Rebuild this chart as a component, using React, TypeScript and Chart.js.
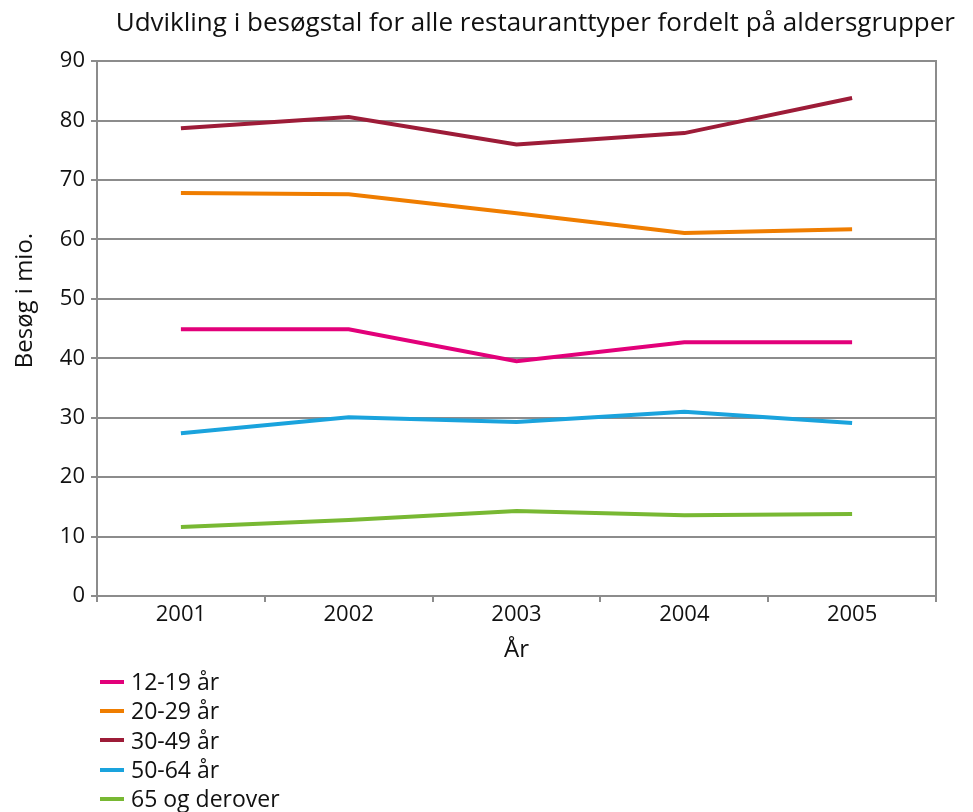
import React, { useEffect, useRef } from "react";
import { Chart, registerables } from "chart.js";

Chart.register(...registerables);

const categories = ["2001", "2002", "2003", "2004", "2005"];
const seriesNames = ["12-19 år", "20-29 år", "30-49 år", "50-64 år", "65 og derover"];
const seriesColors = ["#E2007A", "#EF7D00", "#9D1C38", "#1AA3DD", "#78B833"];
const s12_19 = [44.9, 44.9, 39.5, 42.7, 42.7];
const s20_29 = [67.8, 67.6, 64.4, 61.1, 61.7];
const s30_49 = [78.7, 80.6, 76.0, 77.9, 83.8];
const s50_64 = [27.4, 30.1, 29.3, 31.0, 29.1];
const s65 = [11.6, 12.8, 14.3, 13.6, 13.8];
const seriesValues = [s12_19, s20_29, s30_49, s50_64, s65];

const FONT = "'Open Sans', 'Noto Sans', sans-serif";
const GRID = "#8c8c8c";

export default function App() {
  const ref = useRef<HTMLCanvasElement | null>(null);

  useEffect(() => {
    if (!ref.current) return;
    const chart = new Chart(ref.current, {
      type: "line",
      data: {
        labels: categories,
        datasets: seriesNames.map((name, i) => ({
          label: name,
          data: seriesValues[i],
          borderColor: seriesColors[i],
          backgroundColor: seriesColors[i],
          borderWidth: 4,
          pointRadius: 0,
          tension: 0,
          fill: false,
        })),
      },
      options: {
        animation: false,
        responsive: false,
        maintainAspectRatio: false,
        layout: { padding: { left: 0, right: 10, top: 0, bottom: 0 } },
        plugins: {
          legend: { display: false },
          tooltip: { enabled: false },
          title: {
            display: true,
            text: "Udvikling i besøgstal for alle restauranttyper fordelt på aldersgrupper",
            align: "end",
            color: "#111",
            font: { family: FONT, size: 26, weight: "normal" },
            padding: { top: 0, bottom: 22 },
          },
        },
        scales: {
          x: {
            offset: true,
            grid: {
              offset: true,
              drawOnChartArea: false,
              drawTicks: true,
              tickLength: 6,
              color: GRID,
              lineWidth: 2,
            },
            border: { color: GRID, width: 2 },
            ticks: {
              color: "#111",
              font: { family: FONT, size: 22 },
              padding: 0,
            },
            title: {
              display: true,
              text: "År",
              color: "#111",
              font: { family: FONT, size: 24 },
              padding: { top: 4, bottom: 3 },
            },
            afterFit: (s: any) => {
              s.height = 72;
            },
          },
          y: {
            min: 0,
            max: 90,
            ticks: {
              stepSize: 10,
              color: "#111",
              font: { family: FONT, size: 22 },
              padding: 6,
            },
            grid: {
              color: GRID,
              lineWidth: 2,
              tickLength: 6,
            },
            border: { color: GRID, width: 2 },
            title: {
              display: true,
              text: "         Besøg i mio.",
              color: "#111",
              font: { family: FONT, size: 24 },
              padding: { top: 3, bottom: 3 },
            },
            afterFit: (s: any) => {
              s.width = 89;
            },
          },
          y2: {
            position: "right",
            min: 0,
            max: 90,
            ticks: { display: false },
            grid: { drawOnChartArea: false, drawTicks: false },
            border: { display: true, color: GRID, width: 2 },
            afterFit: (s: any) => {
              s.width = 19;
            },
          },
        },
      },
    } as any);
    return () => chart.destroy();
  }, []);

  return (
    <div style={{ width: 957, fontFamily: FONT }}>
      <canvas ref={ref} width={957} height={660} style={{ display: "block", width: 957, height: 660 }} />
      <div style={{ marginLeft: 92, marginTop: -1 }}>
        {seriesNames.map((name, i) => (
          <div key={name} style={{ display: "flex", alignItems: "center", height: 29.3, fontSize: 23, color: "#111" }}>
            <span style={{ display: "inline-block", width: 24, height: 4, background: seriesColors[i], marginRight: 7 }} />
            <span style={{ lineHeight: "29px" }}>{name}</span>
          </div>
        ))}
      </div>
    </div>
  );
}
